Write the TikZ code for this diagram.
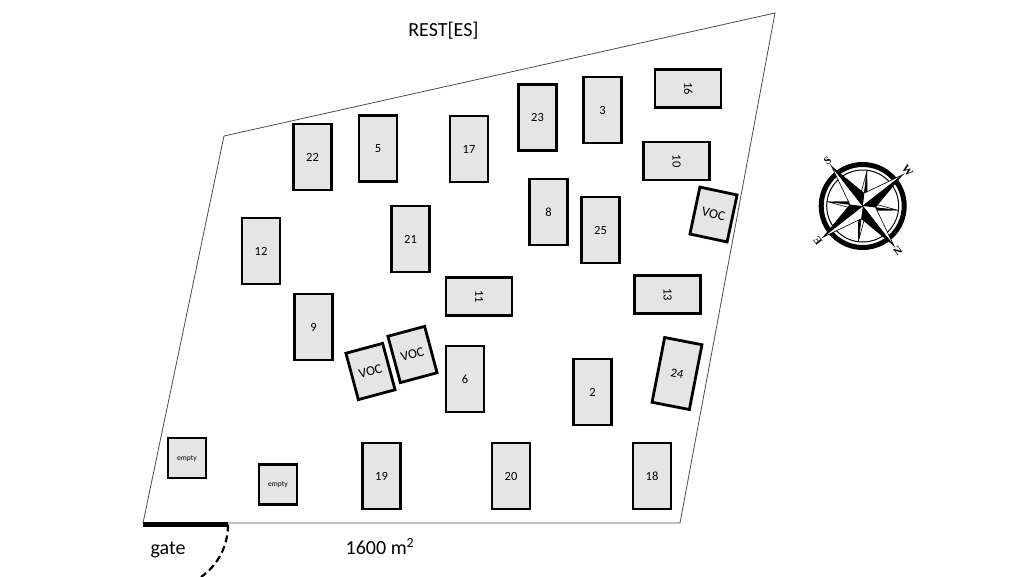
\documentclass[tikz,border=0pt]{standalone}
\usepackage{xcolor}
\usepackage{fontspec}
\setmainfont{Carlito}
\newfontfamily\roseFont{Liberation Serif}
\usepackage{tikz}
\colorlet{Plot}{black!10}
\colorlet{Border}{black!70}
\tikzset{
  plot/.style={draw=black, line width=2.8pt, fill=Plot, minimum width=38pt, minimum height=66pt, inner sep=0pt, text height=8pt, text depth=0pt, font=\fontsize{12.5}{13}\selectfont},
  voc/.style={plot, minimum height=48pt, font=\fontsize{13.5}{14}\selectfont},
  spare/.style={plot, minimum height=40pt, text height=4pt, font=\fontsize{7.5}{8}\selectfont},
  caption/.style={inner sep=0pt, font=\fontsize{20}{20}\selectfont},
  roselabel/.style={inner sep=0pt, font=\roseFont\bfseries\fontsize{11}{11}\selectfont}
}
% one point of the rose: direction, length, angle and radius of the base
\newcommand{\rosepoint}[4]{
  \fill[white] (RC) -- ++(#1:#2) -- ([shift={(#1-#3:#4)}]RC) -- cycle;
  \draw[line width=0.6pt] (RC) -- ++(#1:#2) -- ([shift={(#1-#3:#4)}]RC);
  \fill[black] (RC) -- ++(#1:#2) -- ([shift={(#1+#3:#4)}]RC) -- cycle;
}
\begin{document}
\begin{tikzpicture}[x=1pt,y=-1pt]
        \useasboundingbox (0,0) rectangle (1024,576);

        % field
        \coordinate (A) at (143,523);
        \coordinate (B) at (224,136);
        \coordinate (C) at (775,13);
        \coordinate (D) at (680,523);
        \draw[Border, line width=0.8pt] (A) -- (B) -- (C) -- (D) -- cycle;

        % gate
        \coordinate (G1) at (143,524.5);
        \coordinate (G2) at (228,524.5);
        \coordinate (G3) at (201,577);
        \draw[black, line width=5.5pt] (G1) -- (G2);
        \draw[black, line width=2.2pt, dash pattern=on 7pt off 4pt] (G2) .. controls (228,546) and (218,565) .. (G3);

        % upright plots
        \node[plot] (P22) at (312.5,157) {22};
        \node[plot] (P5) at (378,148.5) {5};
        \node[plot] (P17) at (469,149) {17};
        \node[plot] (P23) at (537.5,117.5) {23};
        \node[plot] (P3) at (602.5,110) {3};
        \node[plot] (P8) at (548.5,212) {8};
        \node[plot] (P25) at (600.5,230) {25};
        \node[plot] (P21) at (410.5,239) {21};
        \node[plot] (P12) at (261,251) {12};
        \node[plot] (P9) at (313.5,327) {9};
        \node[plot] (P6) at (465,379) {6};
        \node[plot] (P2) at (592.5,392) {2};
        \node[plot] (P19) at (381.5,476) {19};
        \node[plot] (P20) at (511,476) {20};
        \node[plot] (P18) at (652,476) {18};
        \node[plot, rotate=-11] (P24) at (677,373.5) {24};

        % plots lying on their side
        \node[plot, rotate=-90] (P16) at (688,88.5) {16};
        \node[plot, rotate=-90] (P10) at (676.5,161) {10};
        \node[plot, rotate=-90] (P11) at (479,296.5) {11};
        \node[plot, rotate=-90] (P13) at (667.5,294.5) {13};

        % voc and empty plots
        \node[voc, rotate=-12] (V1) at (713.5,214.5) {VOC};
        \node[voc, rotate=15] (V2) at (370.5,371.5) {VOC};
        \node[voc, rotate=15] (V3) at (412.5,354.5) {VOC};
        \node[spare] (E1) at (187,458) {empty};
        \node[spare] (E2) at (278,484.5) {empty};

        % texts
        \node[caption] (T1) at (443.5,31) {REST[ES]};
        \node[caption] (T2) at (168,549.5) {gate};
        \node[caption] (T3) at (380,546.5) {1600 m\textsuperscript{2}};

        % compass
        \coordinate (RC) at (862.7,206);
        \draw[black, line width=5pt] (RC) circle (41.5);
        \draw[black, line width=1pt] (RC) circle (36);
        \rosepoint{-83}{36}{22}{10}
        \rosepoint{-353}{36}{22}{10}
        \rosepoint{-263}{36}{22}{10}
        \rosepoint{-173}{36}{22}{10}
        \rosepoint{-38}{51}{45}{13}
        \rosepoint{-308}{51}{45}{13}
        \rosepoint{-218}{51}{45}{13}
        \rosepoint{-128}{51}{45}{13}
        \node[roselabel, rotate=218] (RN) at ([shift={(-308:57)}]RC) {N};
        \node[roselabel, rotate=128] (RE) at ([shift={(-218:57)}]RC) {E};
        \node[roselabel, rotate=38] (RS) at ([shift={(-128:57)}]RC) {S};
        \node[roselabel, rotate=-52] (RW) at ([shift={(-38:57)}]RC) {W};
\end{tikzpicture}
\end{document}
